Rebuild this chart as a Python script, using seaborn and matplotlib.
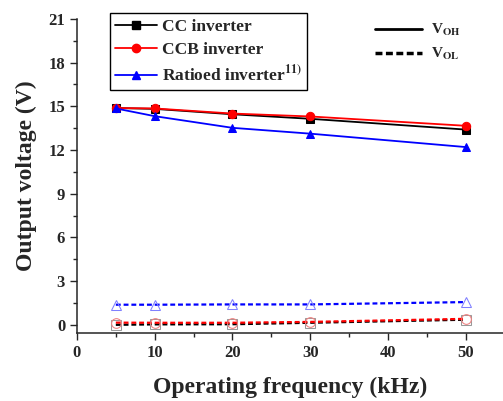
import matplotlib
matplotlib.use("Agg")
import matplotlib.pyplot as plt
from matplotlib.lines import Line2D
from matplotlib.ticker import MultipleLocator
import seaborn as sns
import pandas as pd

freq = [5, 10, 20, 30, 50]
series = ["CC inverter", "CCB inverter", "Ratioed inverter$^{\\mathbf{11)}}$"]
voh_cc = [14.88, 14.82, 14.45, 14.14, 13.40]
voh_ccb = [14.88, 14.85, 14.50, 14.30, 13.66]
voh_rat = [14.85, 14.32, 13.52, 13.12, 12.20]
vol_cc = [0.00, 0.03, 0.04, 0.14, 0.35]
vol_ccb = [0.15, 0.14, 0.14, 0.20, 0.41]
vol_rat = [1.38, 1.38, 1.40, 1.40, 1.56]

sns.set_theme(style="ticks")
plt.rcParams["font.family"] = ["Liberation Serif", "DejaVu Serif"]
plt.rcParams["font.weight"] = "bold"
plt.rcParams["mathtext.fontset"] = "stix"

rows = []
for name, voh, vol in zip(series, [voh_cc, voh_ccb, voh_rat], [vol_cc, vol_ccb, vol_rat]):
    for f, a, b in zip(freq, voh, vol):
        rows.append({"freq": f, "V": a, "series": name, "kind": "VOH"})
        rows.append({"freq": f, "V": b, "series": name, "kind": "VOL"})
df = pd.DataFrame(rows)

colors = {series[0]: "black", series[1]: "red", series[2]: "blue"}
light = {series[0]: "#999999", series[1]: "#f08080", series[2]: "#8080ff"}
markers = {series[0]: "s", series[1]: "o", series[2]: "^"}

fig = plt.figure(figsize=(5.03, 4.01), dpi=100)
ax = fig.add_axes([0.153, 0.170, 0.847, 0.783])

for name in series:
    d = df[(df.series == name) & (df.kind == "VOH")]
    sns.lineplot(data=d, x="freq", y="V", ax=ax, color=colors[name], marker=markers[name],
                 markersize=6, markeredgecolor=colors[name], linewidth=1.3, legend=False)
for name in series:
    d = df[(df.series == name) & (df.kind == "VOL")]
    sns.lineplot(data=d, x="freq", y="V", ax=ax, color=colors[name], marker=markers[name],
                 markersize=7, markerfacecolor="none", markeredgecolor=light[name],
                 linewidth=1.6, linestyle=(0, (2.2, 1.3)), legend=False)

ax.set_xlim(0, 54.8)
ax.set_ylim(-0.55, 21)
ax.xaxis.set_major_locator(MultipleLocator(10))
ax.xaxis.set_minor_locator(MultipleLocator(5))
ax.yaxis.set_major_locator(MultipleLocator(3))
ax.yaxis.set_minor_locator(MultipleLocator(1.5))
ax.tick_params(which="major", length=5, width=1, labelsize=12, direction="out")
ax.tick_params(which="minor", length=3, width=1, direction="out")
for lab in ax.get_xticklabels() + ax.get_yticklabels():
    lab.set_fontweight("bold")
sns.despine(ax=ax)
ax.spines["left"].set_linewidth(1.1)
ax.spines["bottom"].set_linewidth(1.1)

ax.set_xlabel("Operating frequency (kHz)", fontsize=17, fontweight="bold", labelpad=12)
ax.set_ylabel("Output voltage (V)", fontsize=17, fontweight="bold", labelpad=8)

h1 = [Line2D([], [], color=colors[n], marker=markers[n], markersize=6, linewidth=1.3) for n in series]
leg1 = ax.legend(h1, series, loc="upper left", bbox_to_anchor=(0.057, 1.045), frameon=True,
                 fancybox=False, edgecolor="black", framealpha=1, handlelength=2.4,
                 handletextpad=0.3, borderpad=0.3, labelspacing=0.4,
                 prop={"weight": "bold", "size": 12.5})
leg1.get_frame().set_linewidth(1.0)
ax.add_artist(leg1)

h2 = [Line2D([], [], color="black", linewidth=2),
      Line2D([], [], color="black", linewidth=2.5, linestyle=(0, (2, 1)))]
ax.legend(h2, ["V$_{\\mathbf{OH}}$", "V$_{\\mathbf{OL}}$"], loc="upper left",
          bbox_to_anchor=(0.667, 1.033), frameon=False, handlelength=3.1, handletextpad=0.6,
          labelspacing=0.5, prop={"weight": "bold", "size": 11})

fig.savefig("out.png", dpi=100)
